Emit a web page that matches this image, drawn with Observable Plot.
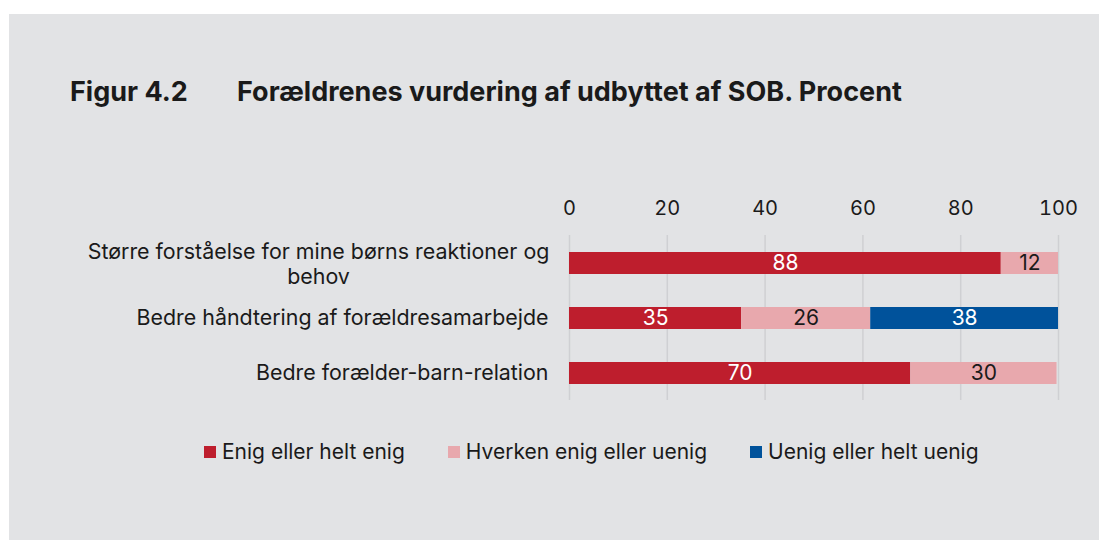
<!DOCTYPE html>
<html>
<head>
<meta charset="utf-8">
<script src="https://cdn.jsdelivr.net/npm/d3@7"></script>
<script src="https://cdn.jsdelivr.net/npm/@observablehq/plot@0.6"></script>
<style>
  html, body { margin: 0; padding: 0; background: #ffffff; width: 1099px; height: 540px; overflow: hidden; }
  #panel { position: absolute; left: 9px; top: 14px; width: 1090px; height: 526px; background: #e2e3e5; }
  #title { position: absolute; left: 70px; top: 75px; font-family: Inter, "Liberation Sans", sans-serif; font-weight: 700; font-size: 27px; line-height: 33px; color: #1a1a1a; white-space: nowrap; }
  #title span.num { display: inline-block; width: 167px; }
  #chart { position: absolute; left: 9px; top: 170px; }
  #legend { position: absolute; left: 204px; top: 439px; display: flex; align-items: center; font-family: Inter, "Liberation Sans", sans-serif; font-size: 21px; line-height: 25px; color: #1a1a1a; }
  #legend .item { display: flex; align-items: center; margin-right: 43px; }
  #legend .sw { width: 12px; height: 12px; margin-right: 6px; }
</style>
</head>
<body>
<div id="panel"></div>
<div id="title"><span class="num">Figur 4.2</span>Forældrenes vurdering af udbyttet af SOB. Procent</div>
<div id="chart"></div>
<div id="legend"></div>
<script>
const categories = [
  "Større forståelse for mine børns reaktioner og behov",
  "Bedre håndtering af forældresamarbejde",
  "Bedre forælder-barn-relation"
];
const categoryLabels = [
  "Større forståelse for mine børns reaktioner og\nbehov",
  "Bedre håndtering af forældresamarbejde",
  "Bedre forælder-barn-relation"
];
const series = ["Enig eller helt enig", "Hverken enig eller uenig", "Uenig eller helt uenig"];
const colors = ["#be1e2d", "#e8a8ad", "#00529b"];
const labelColors = ["white", "black", "white"];
// unrounded shares; labels show rounded values
const enig = [88.3, 35.2, 69.8];
const hverken = [11.7, 26.4, 29.9];
const uenig = [0, 38.4, 0];
const xTicks = [0, 20, 40, 60, 80, 100];

const values = [enig, hverken, uenig];
const data = [];
categories.forEach((c, i) => {
  series.forEach((s, j) => {
    if (values[j][i] > 0) data.push({category: c, series: s, value: values[j][i], light: labelColors[j] === "black"});
  });
});
const labelOf = new Map(categories.map((c, i) => [c, categoryLabels[i]]));
const fmt = v => String(Math.round(v));

const chart = Plot.plot({
  width: 1090,
  height: 240,
  marginLeft: 560,
  marginRight: 41,
  marginTop: 65,
  marginBottom: 10,
  style: {fontFamily: "Inter, 'Liberation Sans', sans-serif", fontSize: "21px", background: "transparent", color: "#1a1a1a"},
  x: {domain: [0, 100], axis: null},
  y: {domain: categories, axis: null, paddingInner: 0.6, paddingOuter: 0.285},
  color: {domain: series, range: colors},
  marks: [
    Plot.gridX(xTicks, {stroke: "#cfd0d3", strokeOpacity: 1, strokeWidth: 1.5}),
    Plot.axisX(xTicks, {anchor: "top", tickSize: 0, tickPadding: 21, fill: "#1a1a1a", label: null, fontSize: 20}),
    Plot.barX(data, Plot.stackX({x: "value", y: "category", fill: "series", z: "series", order: series})),
    Plot.text(data, Plot.stackX({x: "value", y: "category", z: "series", order: series, text: d => d.light ? "" : fmt(d.value), fill: "white"})),
    Plot.text(data, Plot.stackX({x: "value", y: "category", z: "series", order: series, text: d => d.light ? fmt(d.value) : "", fill: "#1a1a1a"})),
    Plot.text(categories.filter(c => !labelOf.get(c).includes("\n")), {y: d => d, text: d => labelOf.get(d), frameAnchor: "left", textAnchor: "end", dx: -21, fill: "#1a1a1a", fontSize: 21.4}),
    Plot.text(categories.filter(c => labelOf.get(c).includes("\n")), {y: d => d, text: d => labelOf.get(d), frameAnchor: "left", textAnchor: "middle", dx: -251, lineHeight: 1.17, fill: "#1a1a1a", fontSize: 21.4})
  ]
});
document.getElementById("chart").appendChild(chart);

const legend = document.getElementById("legend");
series.forEach((s, i) => {
  const item = document.createElement("div");
  item.className = "item";
  const sw = document.createElement("div");
  sw.className = "sw";
  sw.style.background = colors[i];
  const t = document.createElement("span");
  t.textContent = s;
  item.appendChild(sw);
  item.appendChild(t);
  legend.appendChild(item);
});
</script>
</body>
</html>
